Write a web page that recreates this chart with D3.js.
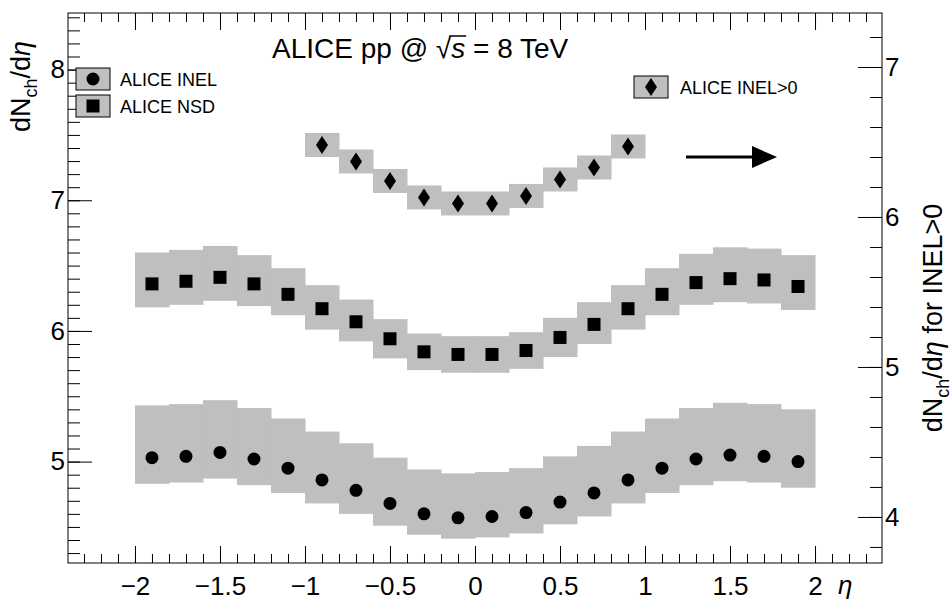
<!DOCTYPE html>
<html><head><meta charset="utf-8">
<script src="https://cdn.jsdelivr.net/npm/d3@7"></script>
<style>body{margin:0;background:#fff}text{font-family:"Liberation Sans",Arial,sans-serif}</style>
</head><body><svg id="c" width="950" height="613"></svg>
<script>
// data
const etaAll = [-1.9,-1.7,-1.5,-1.3,-1.1,-0.9,-0.7,-0.5,-0.3,-0.1,0.1,0.3,0.5,0.7,0.9,1.1,1.3,1.5,1.7,1.9];
const inel = [5.03,5.04,5.07,5.02,4.95,4.86,4.78,4.68,4.60,4.57,4.58,4.61,4.69,4.76,4.86,4.95,5.02,5.05,5.04,5.00];
const inelUp = [0.40,0.40,0.40,0.39,0.38,0.37,0.36,0.35,0.34,0.34,0.34,0.34,0.35,0.36,0.37,0.38,0.39,0.40,0.40,0.40];
const inelDn = [0.20,0.20,0.20,0.20,0.19,0.18,0.18,0.17,0.16,0.16,0.16,0.16,0.17,0.18,0.18,0.19,0.20,0.20,0.20,0.20];
const nsd = [6.36,6.38,6.41,6.36,6.28,6.17,6.07,5.94,5.84,5.82,5.82,5.85,5.95,6.05,6.17,6.28,6.37,6.40,6.39,6.34];
const nsdUp = [0.24,0.24,0.24,0.22,0.20,0.18,0.17,0.15,0.14,0.14,0.14,0.14,0.15,0.17,0.18,0.20,0.22,0.24,0.24,0.24];
const nsdDn = [0.18,0.18,0.18,0.17,0.16,0.16,0.15,0.15,0.14,0.14,0.14,0.14,0.15,0.15,0.16,0.16,0.17,0.18,0.18,0.18];
const etaGt0 = [-0.9,-0.7,-0.5,-0.3,-0.1,0.1,0.3,0.5,0.7,0.9];
const gt0 = [6.48,6.37,6.24,6.13,6.09,6.09,6.14,6.25,6.33,6.47];
const gt0Err = [0.08,0.08,0.08,0.08,0.08,0.08,0.08,0.08,0.08,0.08];

const L=68,R=882,T=13,B=563;
const svg=d3.select("#c");
const x=d3.scaleLinear().domain([-2.394,2.394]).range([L,R]);
const y=d3.scaleLinear().domain([4.224,8.433]).range([B,T]);
const y2=d3.scaleLinear().domain([3.693,7.36]).range([B,T]);
const gray="#bfbfbf";

function band(eta,val,up,dn,sc){
  svg.append("g").selectAll("rect").data(eta).join("rect")
    .attr("x",d=>x(d-0.1)).attr("width",d=>x(d+0.1)-x(d-0.1)+0.5)
    .attr("y",(d,i)=>sc(val[i]+up[i])).attr("height",(d,i)=>sc(val[i]-dn[i])-sc(val[i]+up[i]))
    .attr("fill",gray);
}
band(etaAll,inel,inelUp,inelDn,y);
band(etaAll,nsd,nsdUp,nsdDn,y);
band(etaGt0,gt0,gt0Err,gt0Err,y2);

svg.append("g").selectAll("circle").data(etaAll).join("circle")
  .attr("cx",d=>x(d)).attr("cy",(d,i)=>y(inel[i])).attr("r",6.5);
svg.append("g").selectAll("rect").data(etaAll).join("rect")
  .attr("x",d=>x(d)-6.5).attr("y",(d,i)=>y(nsd[i])-6.5).attr("width",13).attr("height",13);
const dia=(cx,cy)=>`M${cx},${cy-9}L${cx+6},${cy}L${cx},${cy+9}L${cx-6},${cy}Z`;
svg.append("g").selectAll("path").data(etaGt0).join("path")
  .attr("d",(d,i)=>dia(x(d),y2(gt0[i])));

// frame and axes
const fmt=d=>d3.format("")(d).replace("-","\u2212");
svg.append("rect").attr("x",L).attr("y",T).attr("width",R-L).attr("height",B-T).attr("fill","none").attr("stroke","#000");
const ax=svg.append("g").attr("transform",`translate(0,${B})`)
  .call(d3.axisBottom(x).tickValues(d3.range(-2,2.01,0.5)).tickSize(-17).tickFormat(fmt));
svg.append("g").attr("transform",`translate(0,${B})`)
  .call(d3.axisBottom(x).tickValues(d3.range(-23,24).map(d=>d/10)).tickSize(-9).tickFormat(""));
svg.append("g").attr("transform",`translate(0,${T})`)
  .call(d3.axisTop(x).tickValues(d3.range(-2,2.01,0.5)).tickSize(-17).tickFormat(""));
svg.append("g").attr("transform",`translate(0,${T})`)
  .call(d3.axisTop(x).tickValues(d3.range(-23,24).map(d=>d/10)).tickSize(-9).tickFormat(""));
svg.append("g").attr("transform",`translate(${L},0)`)
  .call(d3.axisLeft(y).tickValues([5,6,7,8]).tickSize(-24).tickFormat(fmt));
svg.append("g").attr("transform",`translate(${L},0)`)
  .call(d3.axisLeft(y).tickValues(d3.range(43,85).map(d=>d/10)).tickSize(-12).tickFormat(""));
svg.append("g").attr("transform",`translate(${R},0)`)
  .call(d3.axisRight(y2).tickValues([4,5,6,7]).tickSize(-24).tickFormat(fmt));
svg.append("g").attr("transform",`translate(${R},0)`)
  .call(d3.axisRight(y2).tickValues(d3.range(38,74,2).map(d=>d/10)).tickSize(-12).tickFormat(""));
svg.selectAll(".domain").remove();
svg.selectAll(".tick text").attr("font-size",26).attr("fill","#000");
svg.selectAll(".tick line").attr("stroke","#000");
ax.selectAll(".tick text").attr("dy","1.1em");

// labels
svg.append("text").attr("x",838).attr("y",594).attr("font-size",26).attr("font-style","italic").text("η");
const yl=svg.append("text").attr("transform","translate(30,132) rotate(-90)").attr("font-size",27);
yl.append("tspan").text("dN");yl.append("tspan").attr("font-size",18).attr("dy",7).text("ch");
yl.append("tspan").attr("dy",-7).text("/d");yl.append("tspan").attr("font-style","italic").text("η");
const yr=svg.append("text").attr("transform","translate(942,318) rotate(-90)").attr("font-size",27).attr("text-anchor","middle");
yr.append("tspan").text("dN");yr.append("tspan").attr("font-size",18).attr("dy",7).text("ch");
yr.append("tspan").attr("dy",-7).text("/d");yr.append("tspan").attr("font-style","italic").text("η");
yr.append("tspan").text(" for INEL>0");

const tt=svg.append("text").attr("x",272).attr("y",58).attr("font-size",28);
tt.append("tspan").text("ALICE pp @ ");
const sq=tt.append("tspan").text("\u221A");
const ss=tt.append("tspan").attr("font-style","italic").text("s");
tt.append("tspan").text(" = 8 TeV");
const e0=sq.node().getExtentOfChar(0), e1=ss.node().getExtentOfChar(0);
svg.append("line").attr("x1",e0.x+e0.width-2).attr("x2",e1.x+e1.width+1).attr("y1",e0.y+3).attr("y2",e0.y+3).attr("stroke","#000").attr("stroke-width",1.5);

// legend
function legBox(cx,cy){svg.append("rect").attr("x",cx-17).attr("y",cy-11).attr("width",34).attr("height",22).attr("fill",gray).attr("stroke","#000");}
legBox(93,79);svg.append("circle").attr("cx",93).attr("cy",79).attr("r",6.5);
svg.append("text").attr("x",120).attr("y",86).attr("font-size",18).text("ALICE INEL");
legBox(93,106);svg.append("rect").attr("x",86.5).attr("y",99.5).attr("width",13).attr("height",13);
svg.append("text").attr("x",120).attr("y",113).attr("font-size",18).text("ALICE NSD");
legBox(651,87);svg.append("path").attr("d",dia(651,87));
svg.append("text").attr("x",680).attr("y",94).attr("font-size",18).text("ALICE INEL>0");

// arrow
svg.append("line").attr("x1",686).attr("x2",758).attr("y1",157).attr("y2",157).attr("stroke","#000").attr("stroke-width",3);
svg.append("path").attr("d","M752,146L777,157L752,168Z");
</script></body></html>
